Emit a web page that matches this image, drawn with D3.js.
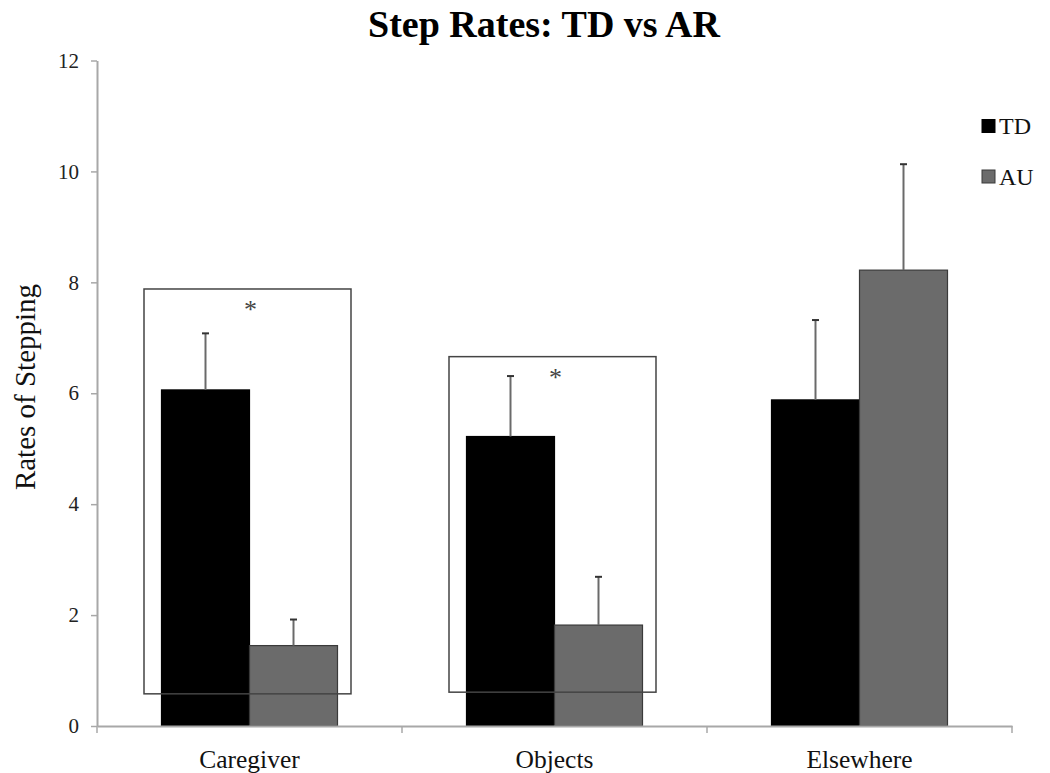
<!DOCTYPE html>
<html>
<head>
<meta charset="utf-8">
<script src="https://cdn.jsdelivr.net/npm/d3@7"></script>
<style>
  html, body { margin: 0; padding: 0; background: #fff; }
  svg { display: block; font-family: "Liberation Serif", "Times New Roman", serif; }
</style>
</head>
<body>
<svg id="chart" width="1050" height="773"></svg>
<script>
// ---- Data ----
const categories = ["Caregiver", "Objects", "Elsewhere"];
const seriesNames = ["TD", "AU"];
const tdValues = [6.06, 5.22, 5.88];
const tdErrors = [7.08, 6.31, 7.32];   // top of error bar
const auValues = [1.45, 1.82, 8.22];
const auErrors = [1.92, 2.69, 10.13];  // top of error bar
const yTicks = [0, 2, 4, 6, 8, 10, 12];
// significance boxes: category, box top and bottom (in data units)
const sigCategories = ["Caregiver", "Objects"];
const sigTops = [7.88, 6.66];
const sigBottoms = [0.58, 0.61];
const titleText = "Step Rates: TD vs AR";
const yLabel = "Rates of Stepping";

// ---- Layout ----
const svg = d3.select("#chart");
const mLeft = 97, mRight = 1012, mTop = 60.5, mBottom = 726;
const colors = { TD: "#000000", AU: "#6b6b6b" };
const strokes = { TD: "#000000", AU: "#3a3a3a" };

const x = d3.scaleBand().domain(categories).range([mLeft, mRight]).paddingInner(0).paddingOuter(0);
const xSub = d3.scaleBand().domain(seriesNames).range([0, x.bandwidth()]).paddingInner(0).paddingOuter(0.733);
const y = d3.scaleLinear().domain([0, 12]).range([mBottom, mTop]);

const data = categories.map((c, i) => ({
  cat: c,
  vals: [
    { s: "TD", v: tdValues[i], e: tdErrors[i] },
    { s: "AU", v: auValues[i], e: auErrors[i] }
  ]
}));

// Title
svg.append("text")
  .attr("x", 544).attr("y", 37)
  .attr("text-anchor", "middle")
  .attr("font-size", 38).attr("font-weight", "bold")
  .attr("fill", "#000")
  .text(titleText);

// Y axis label
svg.append("text")
  .attr("transform", "translate(35,387) rotate(-90)")
  .attr("text-anchor", "middle")
  .attr("font-size", 29)
  .attr("fill", "#111")
  .text(yLabel);

// Bars
const groups = svg.append("g").selectAll("g").data(data).join("g")
  .attr("transform", d => `translate(${x(d.cat)},0)`);

groups.selectAll("rect").data(d => d.vals).join("rect")
  .attr("x", d => xSub(d.s))
  .attr("width", xSub.bandwidth())
  .attr("y", d => y(d.v))
  .attr("height", d => y(0) - y(d.v))
  .attr("fill", d => colors[d.s])
  .attr("stroke", d => strokes[d.s])
  .attr("stroke-width", 1.2);

// Error bars
groups.selectAll("line.err").data(d => d.vals).join("line")
  .attr("class", "err")
  .attr("x1", d => xSub(d.s) + xSub.bandwidth() / 2)
  .attr("x2", d => xSub(d.s) + xSub.bandwidth() / 2)
  .attr("y1", d => y(d.v))
  .attr("y2", d => y(d.e))
  .attr("stroke", "#6a6a6a").attr("stroke-width", 2);

groups.selectAll("line.cap").data(d => d.vals).join("line")
  .attr("class", "cap")
  .attr("x1", d => xSub(d.s) + xSub.bandwidth() / 2 - 3.5)
  .attr("x2", d => xSub(d.s) + xSub.bandwidth() / 2 + 3.5)
  .attr("y1", d => y(d.e))
  .attr("y2", d => y(d.e))
  .attr("stroke", "#333").attr("stroke-width", 2);

// Y axis
const yAxis = svg.append("g")
  .attr("transform", `translate(${mLeft},0)`)
  .call(d3.axisLeft(y).tickValues(yTicks).tickSize(6).tickPadding(12).tickSizeOuter(0));
yAxis.select(".domain").attr("stroke", "#a8a8a8").attr("stroke-width", 2);
yAxis.selectAll(".tick line").attr("stroke", "#a8a8a8").attr("stroke-width", 1.5);
yAxis.selectAll(".tick text")
  .attr("font-family", "Liberation Serif, Times New Roman, serif")
  .attr("font-size", 21).attr("fill", "#222");

// X axis
const xAxis = svg.append("g")
  .attr("transform", `translate(0,${mBottom})`)
  .call(d3.axisBottom(x).tickSize(0).tickPadding(24).tickSizeOuter(0));
xAxis.select(".domain").attr("stroke", "#a8a8a8").attr("stroke-width", 2);
xAxis.selectAll(".tick text")
  .attr("font-family", "Liberation Serif, Times New Roman, serif")
  .attr("font-size", 25.5).attr("fill", "#111");
// category boundary ticks
const boundaries = categories.map(c => x(c)).concat([x(categories[categories.length - 1]) + x.bandwidth()]);
xAxis.selectAll("line.bound").data(boundaries).join("line")
  .attr("class", "bound")
  .attr("x1", d => d).attr("x2", d => d)
  .attr("y1", 0).attr("y2", 7)
  .attr("stroke", "#a8a8a8").attr("stroke-width", 1.5);

// Significance boxes
const sig = sigCategories.map((c, i) => ({ cat: c, top: sigTops[i], bot: sigBottoms[i] }));
svg.append("g").selectAll("rect").data(sig).join("rect")
  .attr("x", d => x(d.cat) + xSub("TD") - 17.5)
  .attr("width", 2 * xSub.bandwidth() + 31)
  .attr("y", d => y(d.top))
  .attr("height", d => y(d.bot) - y(d.top))
  .attr("fill", "none")
  .attr("stroke", "#444").attr("stroke-width", 1.5);

svg.append("g").selectAll("text").data(sig).join("text")
  .attr("x", d => x(d.cat) + x.bandwidth() / 2 + 1)
  .attr("y", d => y(d.top) + 29)
  .attr("text-anchor", "middle")
  .attr("font-size", 26)
  .attr("fill", "#444")
  .text("*");

// Legend
const legend = svg.append("g").selectAll("g").data(seriesNames).join("g")
  .attr("transform", (d, i) => `translate(982,${119.5 + i * 50.5})`);
legend.append("rect")
  .attr("width", 13).attr("height", 13)
  .attr("fill", d => colors[d])
  .attr("stroke", d => strokes[d]).attr("stroke-width", 1);
legend.append("text")
  .attr("x", 17).attr("y", 14.5)
  .attr("font-size", 24)
  .attr("fill", "#111")
  .text(d => d);
</script>
</body>
</html>
